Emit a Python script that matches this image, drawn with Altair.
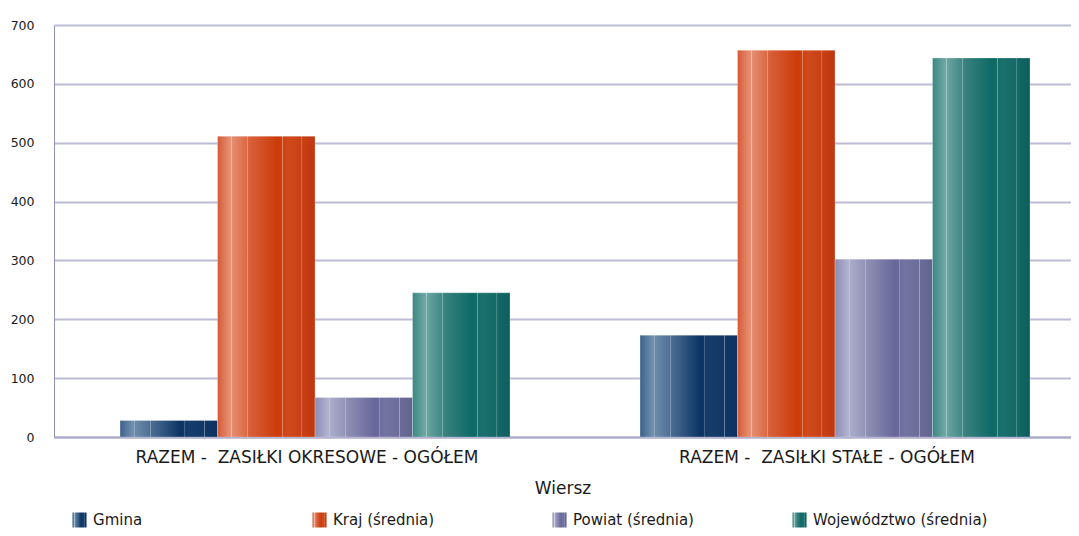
import altair as alt
import pandas as pd

# ---- data ----
groups = ["RAZEM - \u00a0ZASIŁKI OKRESOWE - OGÓŁEM", "RAZEM - \u00a0ZASIŁKI STAŁE - OGÓŁEM"]
series = ["Gmina", "Kraj (średnia)", "Powiat (średnia)", "Województwo (średnia)"]
gmina = [28, 173]
kraj = [511, 657]
powiat = [67, 302]
wojewodztwo = [245, 644]
y_ticks = [0, 100, 200, 300, 400, 500, 600, 700]

values = [gmina, kraj, powiat, wojewodztwo]
rows = []
for s, vals in zip(series, values):
    for g, v in zip(groups, vals):
        rows.append({"group": g, "series": s, "value": v})
df = pd.DataFrame(rows)
leg_df = pd.DataFrame({"series": series})

# ---- styling: striped gradients ----
base_stops = {
    "Gmina": [(0, "#3d6189"), (0.13, "#7090b0"), (0.35, "#46688f"), (0.62, "#0b3363"), (0.72, "#163c6b"), (1, "#0d3262")],
    "Kraj (średnia)": [(0, "#d65a35"), (0.13, "#e69276"), (0.35, "#d75d36"), (0.62, "#cc3a08"), (0.72, "#d04a1c"), (1, "#bf3710")],
    "Powiat (średnia)": [(0, "#8c8db5"), (0.13, "#b0b1cd"), (0.35, "#8c8cb2"), (0.62, "#66669a"), (0.72, "#7474a2"), (1, "#63638f")],
    "Województwo (średnia)": [(0, "#3b8783"), (0.13, "#6fa8a4"), (0.35, "#357f7c"), (0.62, "#0c6966"), (0.72, "#1b716e"), (1, "#0c5f5c")],
}
stripes = [0.145, 0.31, 0.665, 0.865]


def h2r(h):
    h = h.lstrip("#")
    return [int(h[i:i + 2], 16) for i in (0, 2, 4)]


def r2h(c):
    return "#" + "".join(f"{max(0, min(255, int(round(x)))):02x}" for x in c)


def color_at(stops, t):
    for (o1, c1), (o2, c2) in zip(stops[:-1], stops[1:]):
        if o1 <= t <= o2:
            f = (t - o1) / (o2 - o1) if o2 > o1 else 0
            a, b = h2r(c1), h2r(c2)
            return [a[i] + (b[i] - a[i]) * f for i in range(3)]
    return h2r(stops[-1][1])


def make_gradient(stops, w=0.007, alpha=0.45):
    pts = [(o, h2r(c)) for o, c in stops]
    for p in stripes:
        for t in (p - w, p + w):
            pts.append((t, color_at(stops, t)))
        bc = color_at(stops, p)
        pts.append((p, [bc[i] + (255 - bc[i]) * alpha for i in range(3)]))
    pts.sort(key=lambda x: x[0])
    return alt.LinearGradient(
        gradient="linear", x1=0, x2=1, y1=0, y2=0,
        stops=[alt.GradientStop(offset=round(o, 4), color=r2h(c)) for o, c in pts],
    )


FONT = "DejaVu Sans"
W, H = 1017, 412

x_scale = alt.Scale(domain=groups, paddingInner=0.25, paddingOuter=0.1029, align=0.617)
xo_scale = alt.Scale(domain=series, paddingInner=0, paddingOuter=0)
y_scale = alt.Scale(domain=[0, 700], nice=False)
leg_scale = alt.Scale(type="band", domain=series, paddingInner=0, paddingOuter=0.11875, align=0.316)

x_axis = alt.Axis(title="Wiersz", labelAngle=0, ticks=False, labelPadding=12, labelOffset=-8,
                  labelFontSize=17, titleFontSize=17, titlePadding=15,
                  titleFontWeight="normal", domainColor="#a8a8c8", domainWidth=2,
                  labelColor="#1a1a1a", titleColor="#1a1a1a",
                  labelFont=FONT, titleFont=FONT, labelLimit=500)
y_axis = alt.Axis(title=None, values=y_ticks, ticks=False, labelPadding=20,
                  labelFontSize=12.5, labelFont=FONT, labelColor="#1a1a1a",
                  grid=True, gridColor="#bcbcd4", gridWidth=2,
                  domain=True, domainColor="#9090b8", domainWidth=1)

bar_layers = []
for i, s in enumerate(series):
    grad = make_gradient(base_stops[s])
    if i == 0:
        xenc = alt.X("group:N", sort=groups, scale=x_scale, axis=x_axis)
        yenc = alt.Y("value:Q", scale=y_scale, axis=y_axis)
    else:
        xenc = alt.X("group:N", sort=groups, scale=x_scale)
        yenc = alt.Y("value:Q", scale=y_scale)
    bar = (alt.Chart(df)
           .transform_filter(alt.datum.series == s)
           .mark_bar(fill=grad, stroke="#ffffff", strokeOpacity=0.25, strokeWidth=1)
           .encode(x=xenc,
                   xOffset=alt.XOffset("series:N", scale=xo_scale),
                   y=yenc))
    bar_layers.append(bar)
bars = alt.layer(*bar_layers)

# manual legend (gradient symbols)
LEG_Y = H + 83
leg_layers = []
for s in series:
    grad = make_gradient(base_stops[s], w=0.02, alpha=0.4)
    sym = (alt.Chart(leg_df)
           .transform_filter(alt.datum.series == s)
           .mark_point(shape="M-0.94,-1H0.94V1H-0.94Z", size=225, filled=True, fill=grad,
                       opacity=1, strokeWidth=0, xOffset=7.5)
           .encode(x=alt.X("series:N", bandPosition=0, scale=leg_scale, axis=None),
                   y=alt.value(LEG_Y)))
    leg_layers.append(sym)

txt = (alt.Chart(leg_df)
       .mark_text(align="left", baseline="middle", dx=21, fontSize=15, font=FONT, color="#1a1a1a")
       .encode(x=alt.X("series:N", bandPosition=0, scale=leg_scale, axis=None),
               y=alt.value(LEG_Y), text="series:N"))
leg_layers.append(txt)
legend = alt.layer(*leg_layers)

chart = (alt.layer(bars, legend)
         .resolve_scale(x="independent")
         .properties(width=W, height=H, background="white",
                     padding={"left": 2, "top": 11, "right": 0, "bottom": 0})
         .configure_view(strokeWidth=0))

chart.save("out.html", embed_options={"renderer": "svg", "actions": False})
